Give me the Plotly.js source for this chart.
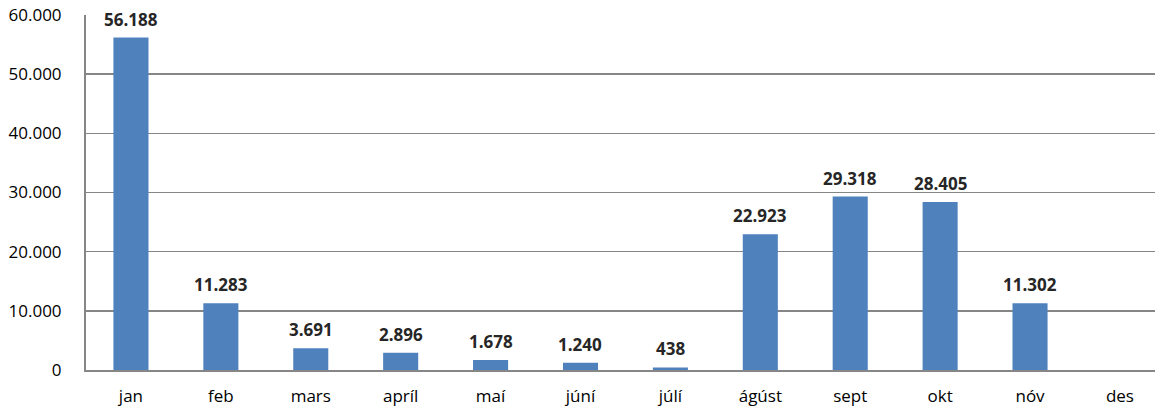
<!DOCTYPE html>
<html><head><meta charset="utf-8">
<script src="https://cdn.plot.ly/plotly-3.0.1.min.js"></script>
<style>html,body{margin:0;padding:0;background:#fff;}#c{width:1155px;height:410px;}</style>
</head><body><div id="c"></div>
<script>
const months = ['jan','feb','mars','apríl','maí','júní','júlí','ágúst','sept','okt','nóv','des'];
const values = [56188, 11283, 3691, 2896, 1678, 1240, 438, 22923, 29318, 28405, 11302, null];
const yTicks = [0, 10000, 20000, 30000, 40000, 50000, 60000];

const fmt = v => String(v).replace(/\B(?=(\d{3})+(?!\d))/g, '.');

const trace = {
  type: 'bar', x: months, y: values,
  marker: {color: '#4F81BD'},
  hoverinfo: 'none'
};
const annotations = months.map((m, i) => values[i] == null ? null : ({
  x: m, y: values[i], xref: 'x', yref: 'y', text: fmt(values[i]),
  showarrow: false, yanchor: 'bottom', yshift: 5,
  font: {family: 'Open Sans, sans-serif', size: 17, color: '#262626', weight: 'bold'}
})).filter(a => a);

const layout = {
  width: 1155, height: 410,
  margin: {l: 86, r: 0, t: 15, b: 39.5},
  separators: ',.',
  bargap: 0.61,
  showlegend: false,
  paper_bgcolor: '#fff', plot_bgcolor: '#fff',
  font: {family: 'Open Sans, sans-serif', size: 17, color: '#000'},
  annotations: annotations,
  xaxis: {range: [-0.5, 11.39], showline: true, linecolor: '#868686', linewidth: 2,
          ticks: '', ticklabelstandoff: 10, tickfont: {size: 17}, fixedrange: true},
  yaxis: {range: [0, 60000], tickvals: yTicks, tickformat: ',d', showline: true, linecolor: '#868686', linewidth: 2,
          gridcolor: '#868686', gridwidth: 1.5, zeroline: false, ticks: '', ticklabelstandoff: 19, tickfont: {size: 17}}
};
Plotly.newPlot('c', [trace], layout, {displayModeBar: false, staticPlot: true});
</script></body></html>
